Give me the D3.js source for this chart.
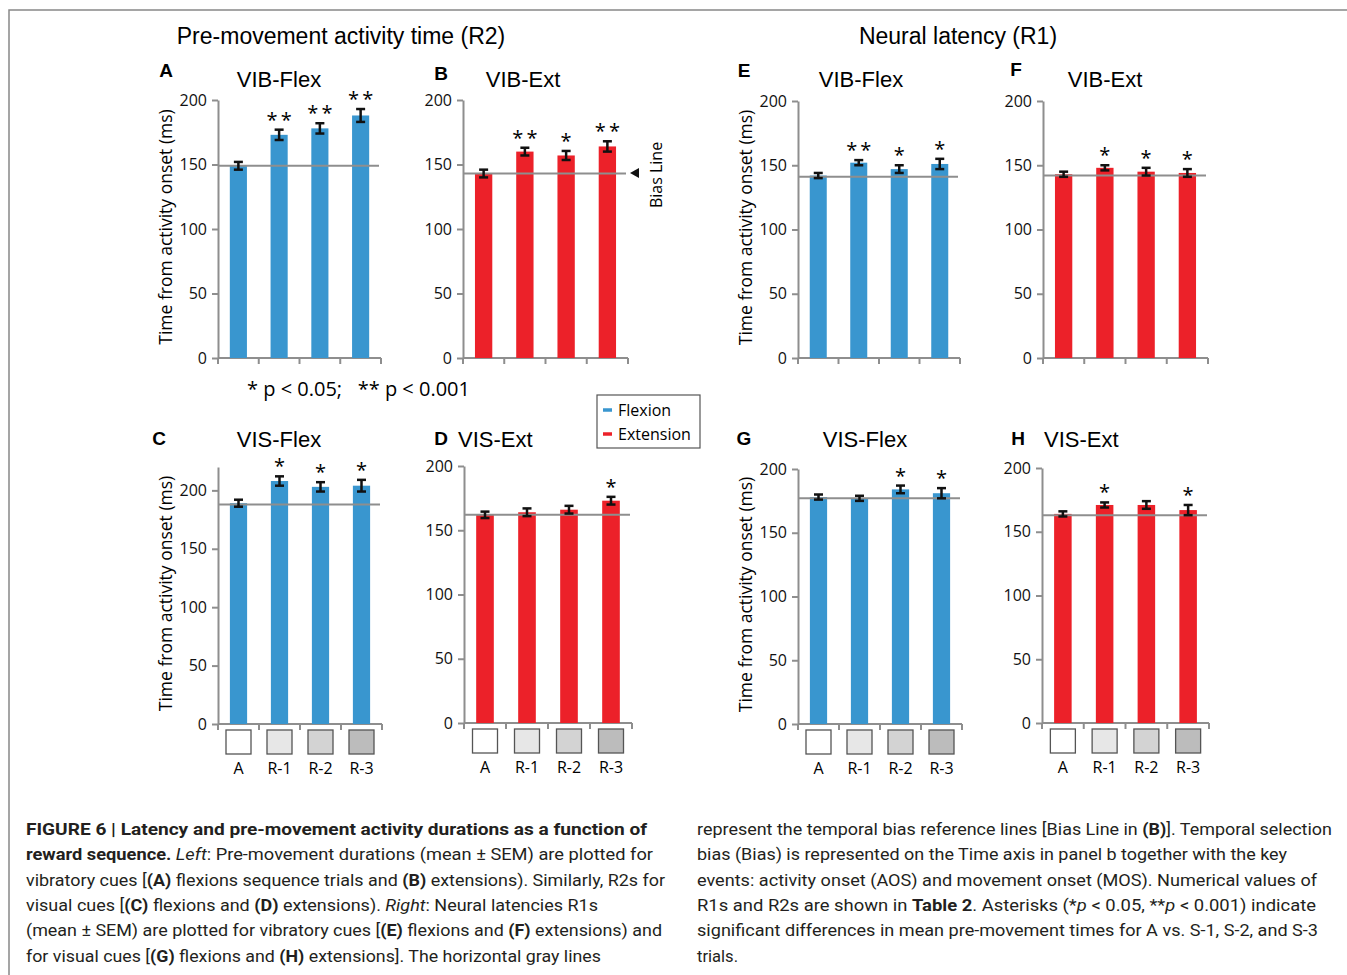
<!DOCTYPE html>
<html><head><meta charset="utf-8">
<script src="https://cdn.jsdelivr.net/npm/d3@7"></script>
<style>body{margin:0;background:#fff;} svg{display:block;}</style>
</head><body>
<script>
// ---------- DATA ----------
const categories = ["A", "R-1", "R-2", "R-3"];
const boxFills = ["#ffffff", "#e7e7e7", "#d3d3d3", "#bcbcbc"];
const yTicks = [0, 50, 100, 150, 200];

const valsA = [149, 173, 178, 188], errA = [3, 4, 4, 5], sigA = ["", "**", "**", "**"], biasA = 149;
const valsB = [143, 160, 157, 164], errB = [3, 3, 3.5, 4], sigB = ["", "**", "*", "**"], biasB = 143;
const valsC = [189, 208, 203, 204], errC = [3, 4, 4, 5], sigC = ["", "*", "*", "*"], biasC = 188;
const valsD = [162, 164, 166, 173], errD = [2.5, 3, 3, 3], sigD = ["", "", "", "*"], biasD = 162;
const valsE = [142, 152, 147, 151], errE = [2, 2, 3, 4], sigE = ["", "**", "*", "*"], biasE = 141;
const valsF = [143, 148, 145, 144], errF = [2, 2, 3, 3], sigF = ["", "*", "*", "*"], biasF = 142;
const valsG = [178, 177, 184, 181], errG = [2, 2, 3, 4], sigG = ["", "", "*", "*"], biasG = 177;
const valsH = [164, 171, 171, 167], errH = [2, 2, 3, 4], sigH = ["", "*", "", "*"], biasH = 163;

const headerLeft = "Pre-movement activity time (R2)";
const headerRight = "Neural latency (R1)";
const yTitle = "Time from activity onset (ms)";
const sigNote = "* p < 0.05;   ** p < 0.001";
const legendLabels = ["Flexion", "Extension"];

// ---------- STYLE / LAYOUT ----------
const BLUE = "#3996cf", RED = "#ec2129", GRAY = "#8e8e8e";
const colorFor = {flex: BLUE, ext: RED};

const panels = [
  {id:"A", title:"VIB-Flex", kind:"flex", vals:valsA, err:errA, sig:sigA, bias:biasA, x0:218, x1:381, y0:358, yT:100, dmax:200, boxes:false, yt:true, lx:166, ly:77, tx:279, ty:87, anchor:"middle"},
  {id:"B", title:"VIB-Ext",  kind:"ext",  vals:valsB, err:errB, sig:sigB, bias:biasB, x0:463, x1:628, y0:358, yT:100, dmax:200, boxes:false, yt:false, lx:441, ly:80, tx:523, ty:87, anchor:"middle"},
  {id:"E", title:"VIB-Flex", kind:"flex", vals:valsE, err:errE, sig:sigE, bias:biasE, x0:798, x1:960, y0:358, yT:101, dmax:200, boxes:false, yt:true, lx:744, ly:77, tx:861, ty:87, anchor:"middle"},
  {id:"F", title:"VIB-Ext",  kind:"ext",  vals:valsF, err:errF, sig:sigF, bias:biasF, x0:1043, x1:1208, y0:358, yT:101, dmax:200, boxes:false, yt:false, lx:1016, ly:76, tx:1105, ty:87, anchor:"middle"},
  {id:"C", title:"VIS-Flex", kind:"flex", vals:valsC, err:errC, sig:sigC, bias:biasC, x0:218, x1:382, y0:724, yT:467, dmax:220, boxes:true, yt:true, lx:159, ly:445, tx:279, ty:447, anchor:"middle"},
  {id:"D", title:"VIS-Ext",  kind:"ext",  vals:valsD, err:errD, sig:sigD, bias:biasD, x0:464, x1:632, y0:723, yT:466, dmax:200, boxes:true, yt:false, lx:441, ly:445, tx:458, ty:447, anchor:"start"},
  {id:"G", title:"VIS-Flex", kind:"flex", vals:valsG, err:errG, sig:sigG, bias:biasG, x0:798, x1:962, y0:724, yT:469, dmax:200, boxes:true, yt:true, lx:744, ly:445, tx:865, ty:447, anchor:"middle"},
  {id:"H", title:"VIS-Ext",  kind:"ext",  vals:valsH, err:errH, sig:sigH, bias:biasH, x0:1042, x1:1209, y0:723, yT:468, dmax:200, boxes:true, yt:false, lx:1018, ly:445, tx:1044, ty:447, anchor:"start"}
];

const captionLeft = [
  [["FIGURE 6 | Latency and pre-movement activity durations as a function of","b"]],
  [["reward sequence.","b"],[" ",""],["Left","i"],[": Pre-movement durations (mean \u00b1 SEM) are plotted for",""]],
  [["vibratory cues [","" ],["(A)","b"],[" flexions sequence trials and ",""],["(B)","b"],[" extensions). Similarly, R2s for",""]],
  [["visual cues [",""],["(C)","b"],[" flexions and ",""],["(D)","b"],[" extensions). ",""],["Right","i"],[": Neural latencies R1s",""]],
  [["(mean \u00b1 SEM) are plotted for vibratory cues [",""],["(E)","b"],[" flexions and ",""],["(F)","b"],[" extensions) and",""]],
  [["for visual cues [",""],["(G)","b"],[" flexions and ",""],["(H)","b"],[" extensions]. The horizontal gray lines",""]]
];
const captionLeftEnds = [647, 653, 665, 598, 662, 601];
const captionRight = [
  [["represent the temporal bias reference lines [Bias Line in ",""],["(B)","b"],["]. Temporal selection",""]],
  [["bias (Bias) is represented on the Time axis in panel b together with the key",""]],
  [["events: activity onset (AOS) and movement onset (MOS). Numerical values of",""]],
  [["R1s and R2s are shown in ",""],["Table 2","b"],[". Asterisks (*",""],["p","i"],[" < 0.05, **",""],["p","i"],[" < 0.001) indicate",""]],
  [["significant differences in mean pre-movement times for A vs. S-1, S-2, and S-3",""]],
  [["trials.",""]]
];
const captionRightEnds = [1332, 1287, 1317, 1316, 1318, 738];

// ---------- DRAW ----------
const W = 1347, H = 975;
const svg = d3.select("body").append("svg").attr("width", W).attr("height", H);
const SANS = "'Liberation Sans', Arial, sans-serif";
const TICKF = "'Open Sans', 'DejaVu Sans', sans-serif";

// frame
svg.append("path").attr("d", `M9,975 V10 H1347`).attr("fill","none").attr("stroke","#888").attr("stroke-width",1.5);

// headers
svg.append("text").attr("x", 341).attr("y", 44).attr("text-anchor","middle")
  .style("font-family", SANS).style("font-size","23px").text(headerLeft);
svg.append("text").attr("x", 958).attr("y", 44).attr("text-anchor","middle")
  .style("font-family", SANS).style("font-size","23px").text(headerRight);

panels.forEach(p => {
  const g = svg.append("g");
  const y = d3.scaleLinear().domain([0, p.dmax]).range([p.y0, p.yT]);
  const x = d3.scaleBand().domain(categories).range([p.x0, p.x1]).paddingInner(0.58).paddingOuter(0.29);
  const col = colorFor[p.kind];

  // y axis
  const yAxis = d3.axisLeft(y).tickValues(yTicks).tickSize(6).tickSizeOuter(0).tickPadding(5);
  const ya = g.append("g").attr("transform", `translate(${p.x0},0)`).call(yAxis);
  ya.select(".domain").attr("stroke", GRAY).attr("stroke-width", 2);
  ya.selectAll(".tick line").attr("stroke", GRAY).attr("stroke-width", 2);
  ya.selectAll(".tick text").style("font-family", TICKF).style("font-size","16px").attr("fill","#111");

  // x axis (band boundaries as ticks)
  const xa = g.append("g");
  xa.append("line").attr("x1", p.x0).attr("x2", p.x1).attr("y1", p.y0).attr("y2", p.y0)
    .attr("stroke", GRAY).attr("stroke-width", 2);
  const bounds = categories.map(c => x(c) - x.step() * x.paddingInner() / 2).concat([p.x1]);
  bounds[0] = p.x0;
  xa.selectAll("line.xt").data(bounds).join("line").attr("class","xt")
    .attr("x1", d => d).attr("x2", d => d).attr("y1", p.y0).attr("y2", p.y0 + 6)
    .attr("stroke", GRAY).attr("stroke-width", 2);

  // bars
  g.selectAll("rect.bar").data(p.vals).join("rect").attr("class","bar")
    .attr("x", (d,i) => x(categories[i])).attr("width", x.bandwidth())
    .attr("y", d => y(d)).attr("height", d => y(0) - y(d))
    .attr("fill", col);

  // bias line
  g.append("line").attr("x1", p.x0).attr("x2", p.x1 - 2).attr("y1", y(p.bias)).attr("y2", y(p.bias))
    .attr("stroke", GRAY).attr("stroke-width", 2);

  // error bars
  p.vals.forEach((v, i) => {
    const cx = x(categories[i]) + x.bandwidth() / 2, e = p.err[i];
    const eg = g.append("g").attr("stroke", "#111").attr("stroke-width", 2.5);
    eg.append("line").attr("x1", cx).attr("x2", cx).attr("y1", y(v - e)).attr("y2", y(v + e));
    eg.append("line").attr("x1", cx - 4.5).attr("x2", cx + 4.5).attr("y1", y(v - e)).attr("y2", y(v - e));
    eg.append("line").attr("x1", cx - 4.5).attr("x2", cx + 4.5).attr("y1", y(v + e)).attr("y2", y(v + e));
    if (p.sig[i]) {
      g.append("text").attr("x", cx + (p.sig[i].length > 1 ? 1.5 : 0)).attr("y", y(v + e) - 3)
        .attr("text-anchor","middle").style("font-family", TICKF).style("font-size","20px")
        .style("letter-spacing", p.sig[i].length > 1 ? "3px" : "0px")
        .text(p.sig[i]);
    }
  });

  // category boxes + labels
  if (p.boxes) {
    categories.forEach((c, i) => {
      const cx = x(c) + x.bandwidth() / 2;
      g.append("rect").attr("x", cx - 12.5).attr("y", p.y0 + 6).attr("width", 25).attr("height", 24)
        .attr("fill", boxFills[i]).attr("stroke", "#555").attr("stroke-width", 1.3);
      g.append("text").attr("x", cx).attr("y", p.y0 + 50).attr("text-anchor","middle")
        .style("font-family", TICKF).style("font-size","16px").text(c);
    });
  }

  // y title
  if (p.yt) {
    const cy = (p.y0 + p.yT) / 2 - 2;
    g.append("text").attr("transform", `translate(${p.x0 - 46},${cy}) rotate(-90)`)
      .attr("text-anchor","middle").style("font-family", TICKF).style("font-size","17.5px").text(yTitle);
  }

  // panel letter and title
  g.append("text").attr("x", p.lx).attr("y", p.ly).attr("text-anchor","middle")
    .style("font-family", SANS).style("font-weight","bold").style("font-size","19px").text(p.id);
  g.append("text").attr("x", p.tx).attr("y", p.ty).attr("text-anchor", p.anchor)
    .style("font-family", SANS).style("font-size","22px").text(p.title);
});

// Bias line marker (panel B)
svg.append("path").attr("d", "M630,173 L639,168 L639,178 Z").attr("fill", "#111");
svg.append("text").attr("transform", "translate(662,175) rotate(-90)").attr("text-anchor","middle")
  .style("font-family", TICKF).style("font-size","16px").text("Bias Line");

// significance note
svg.append("text").attr("x", 247).attr("y", 396)
  .style("font-family", TICKF).style("font-size","20px").style("white-space","pre").attr("xml:space","preserve").text(sigNote);

// legend
const lg = svg.append("g");
lg.append("rect").attr("x", 597).attr("y", 395).attr("width", 103).attr("height", 53)
  .attr("fill","#fff").attr("stroke","#555").attr("stroke-width",1.2);
legendLabels.forEach((t, i) => {
  const yy = 410 + i * 24;
  lg.append("line").attr("x1", 603).attr("x2", 612).attr("y1", yy).attr("y2", yy)
    .attr("stroke", i === 0 ? BLUE : RED).attr("stroke-width", 3.5);
  lg.append("text").attr("x", 618).attr("y", yy + 6).style("font-family", TICKF).style("font-size","16px").text(t);
});

// caption
const CAPF = "'Liberation Sans Narrow', 'Roboto', 'Liberation Sans', sans-serif";
function drawCaption(lines, ends, x0) {
  lines.forEach((segs, i) => {
    const t = svg.append("text").attr("x", x0).attr("y", 835 + i * 25.3)
      .style("font-family", CAPF).style("font-size","17px").attr("fill","#231f20")
      .attr("textLength", ends[i] - x0).attr("lengthAdjust","spacingAndGlyphs")
      .attr("xml:space","preserve");
    segs.forEach(([s, st]) => {
      const ts = t.append("tspan").text(s);
      if (st === "b") ts.style("font-weight","bold");
      if (st === "i") ts.style("font-style","italic");
    });
  });
}
drawCaption(captionLeft, captionLeftEnds, 26);
drawCaption(captionRight, captionRightEnds, 697);
</script>
</body></html>
